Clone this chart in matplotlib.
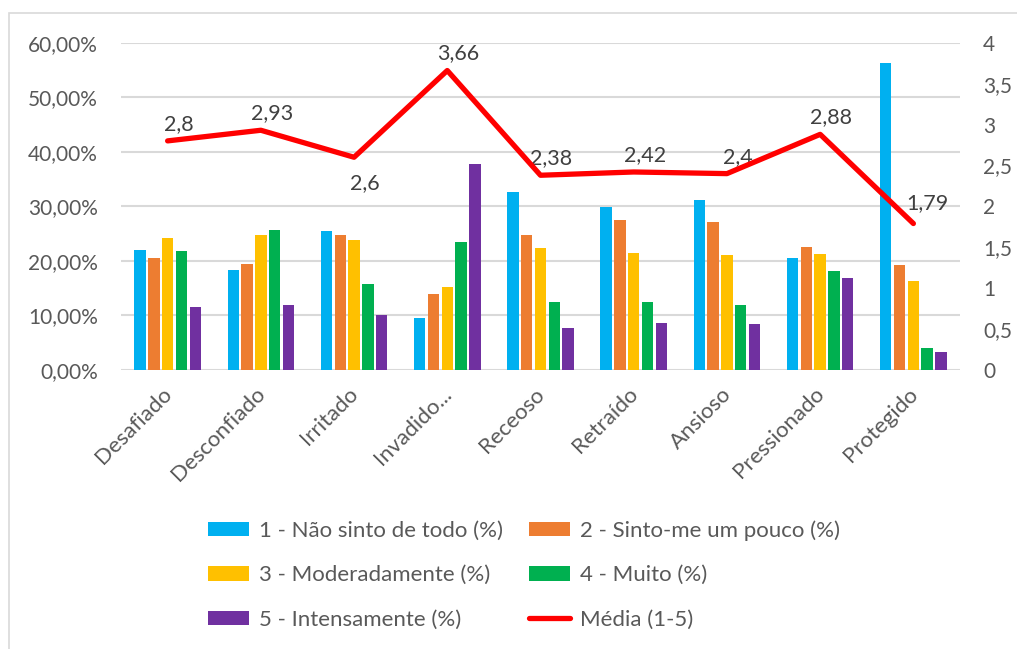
import numpy as np
import matplotlib.pyplot as plt
import matplotlib.transforms as mtrans
from matplotlib.patches import Rectangle
from matplotlib.lines import Line2D

plt.rcParams['font.family'] = ['Lato', 'DejaVu Sans']

categories = ["Desafiado", "Desconfiado", "Irritado", "Invadido...", "Receoso",
              "Retraído", "Ansioso", "Pressionado", "Protegido"]
nao_sinto = [22.0, 18.3, 25.5, 9.6, 32.7, 29.9, 31.1, 20.6, 56.3]
pouco = [20.5, 19.4, 24.8, 14.0, 24.7, 27.5, 27.2, 22.6, 19.3]
moderado = [24.2, 24.8, 23.8, 15.2, 22.4, 21.4, 21.1, 21.2, 16.4]
muito = [21.8, 25.6, 15.7, 23.5, 12.4, 12.4, 11.9, 18.1, 4.1]
intenso = [11.5, 11.9, 10.0, 37.7, 7.7, 8.6, 8.4, 16.9, 3.3]
media = [2.8, 2.93, 2.6, 3.66, 2.38, 2.42, 2.4, 2.88, 1.79]
media_labels = ["2,8", "2,93", "2,6", "3,66", "2,38", "2,42", "2,4", "2,88", "1,79"]

series = [nao_sinto, pouco, moderado, muito, intenso]
names = ["1 - Não sinto de todo (%)", "2 - Sinto-me um pouco (%)",
         "3 - Moderadamente (%)", "4 - Muito (%)", "5 - Intensamente (%)"]
colors = ["#00B0F0", "#ED7D31", "#FFC000", "#00B050", "#7030A0"]

W, H = 1017, 649
fig = plt.figure(figsize=(W / 100, H / 100), dpi=100)
fig.patches.append(Rectangle((9 / W, -0.5), 1.2, 1.5 - 13 / H, transform=fig.transFigure,
                             fill=False, edgecolor="#D9D9D9", lw=1.2))

ax = fig.add_axes([121 / W, (H - 370) / H, (960 - 121) / W, (370 - 42.7) / H])
x = np.arange(len(categories))
slot = 0.148
bw = 0.122
bars = []
for i, (vals, c) in enumerate(zip(series, colors)):
    b = ax.bar(x + (i - 2) * slot, vals, width=bw, color=c, zorder=3)
    bars.append(b)

ax.set_xlim(-0.5, len(categories) - 0.5)
ax.set_ylim(0, 60)
ax.set_yticks(np.arange(0, 61, 10))
ax.set_yticklabels([f"{v},00%" for v in range(0, 61, 10)])
ax.yaxis.grid(True, color="#D9D9D9", lw=1.5, zorder=0)
ax.set_axisbelow(True)
for s in ax.spines.values():
    s.set_visible(False)
ax.tick_params(axis="both", length=0, labelsize=15, colors="#595959")
ax.tick_params(axis="y", pad=16.5)
ax.set_xticks(x)
ax.set_xticklabels(categories, rotation=45, ha="right", rotation_mode="anchor", fontsize=16)
ax.tick_params(axis="x", pad=10)
shift = mtrans.ScaledTranslation(-6 / 100, 0, fig.dpi_scale_trans)
for t in ax.get_xticklabels():
    t.set_transform(t.get_transform() + shift)

ax2 = ax.twinx()
ax2.plot(x, media, color="#FF0000", lw=3.8, solid_capstyle="round", zorder=5)
ax2.set_ylim(0, 4)
ax2.set_yticks(np.arange(0, 4.01, 0.5))
ax2.set_yticklabels(["0", "0,5", "1", "1,5", "2", "2,5", "3", "3,5", "4"])
for s in ax2.spines.values():
    s.set_visible(False)
ax2.tick_params(axis="y", length=0, labelsize=15, colors="#595959", pad=16.5)

for i, (v, lab) in enumerate(zip(media, media_labels)):
    if lab == "2,6":
        off = (11, -26)
    elif lab == "1,79":
        off = (14, 20)
    else:
        off = (11, 17)
    ax2.annotate(lab, (x[i], v), xytext=off, textcoords="offset pixels",
                 ha="center", va="center", fontsize=15.5, color="#404040")

handles = [bars[0], bars[2], bars[4], bars[1], bars[3],
           Line2D([], [], color="#FF0000", lw=3.8, solid_capstyle="round")]
labels = [names[0], names[2], names[4], names[1], names[3], "Média (1-5)"]
fig.legend(handles, labels, ncol=2, loc="center", bbox_to_anchor=(524 / W, 1 - 575 / H),
           frameon=False, fontsize=16, handlelength=1.85, handleheight=0.65,
           handletextpad=0.45, columnspacing=1.2, labelspacing=1.1, labelcolor="#595959")

fig.savefig("out.png", dpi=100)
